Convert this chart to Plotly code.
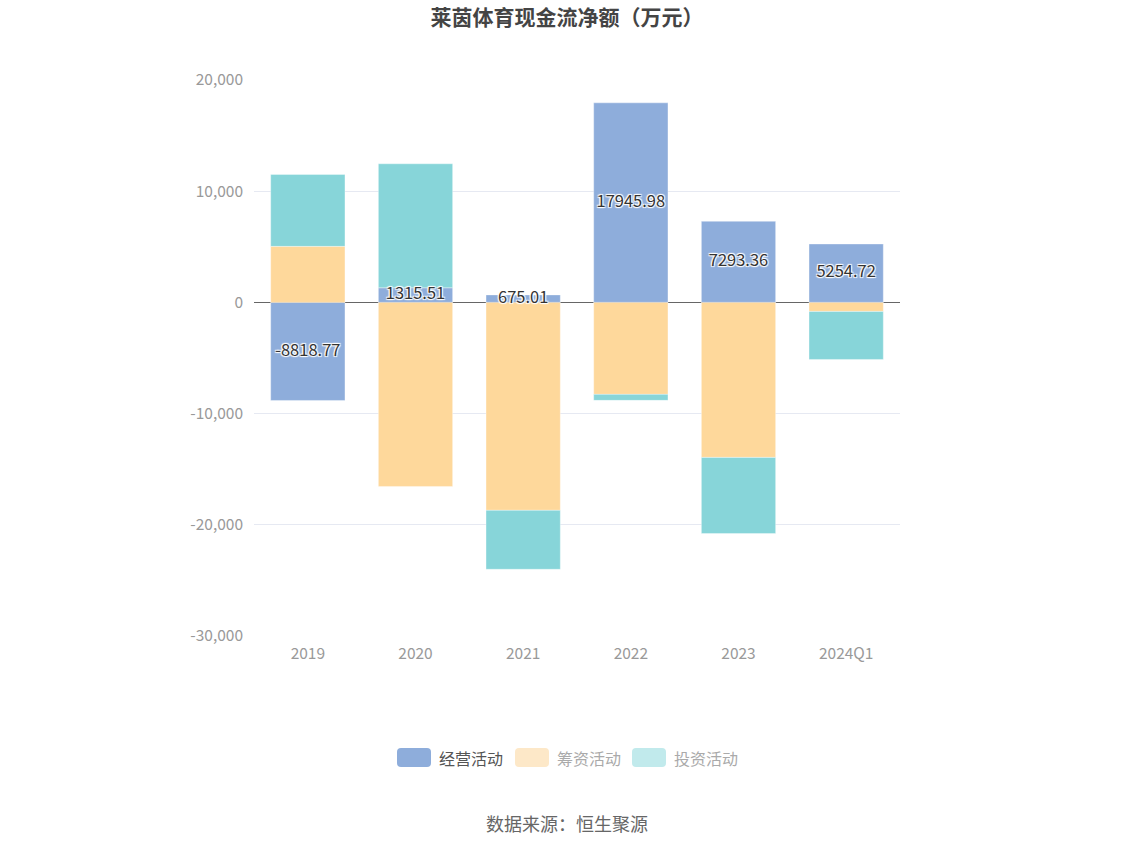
import plotly.graph_objects as go

categories = ["2019", "2020", "2021", "2022", "2023", "2024Q1"]
operating = [-8818.77, 1315.51, 675.01, 17945.98, 7293.36, 5254.72]
financing = [5040, -16550, -18700, -8270, -13940, -810]
investing = [6470, 11150, -5300, -540, -6840, -4320]
operating_labels = ["-8818.77", "1315.51", "675.01", "17945.98", "7293.36", "5254.72"]
series_names = ["经营活动", "筹资活动", "投资活动"]

FONT = "Noto Sans CJK SC, Microsoft YaHei, sans-serif"
C_OP = "#8eaddb"
C_FIN = "#fed89b"
C_INV = "#87d5d9"

W, H = 1134, 849
ML, MR, MT, MB = 254, 234, 80, 213
PW, PH = W - ML - MR, H - MT - MB

def px2paper(x, y):
    # page pixel (from top-left) -> paper coords
    return (x - ML) / PW, (H - MB - y) / PH

fig = go.Figure()
edge = dict(color="rgba(255,255,255,0.6)", width=0.6)
fig.add_trace(go.Bar(x=categories, y=operating, name=series_names[0], marker=dict(color=C_OP, line=edge), width=0.69, showlegend=False))
fig.add_trace(go.Bar(x=categories, y=financing, name=series_names[1], marker=dict(color=C_FIN, line=edge), width=0.69, showlegend=False))
fig.add_trace(go.Bar(x=categories, y=investing, name=series_names[2], marker=dict(color=C_INV, line=edge), width=0.69, showlegend=False))

fig.add_trace(go.Scatter(
    x=categories, y=[v / 2 for v in operating], mode="text", text=operating_labels,
    textfont=dict(family=FONT, size=16.5, color="#333",
                  shadow="1px 1px 1px #fff, -1px -1px 1px #fff, 1px -1px 1px #fff, -1px 1px 1px #fff"),
    showlegend=False, hoverinfo="skip"))

# manual legend (rounded swatches)
legend_items = [
    (397, "#8eaddb", series_names[0], "#555"),
    (515, "#fde8c8", series_names[1], "#aaa"),
    (632, "#c1eaec", series_names[2], "#aaa"),
]
shapes = []
annotations = []
for x0, col, name, tcol in legend_items:
    y0, w, h, r = 748, 34, 19, 4
    x1, y1 = x0 + w, y0 + h
    pts = {
        "a": px2paper(x0 + r, y0), "b": px2paper(x1 - r, y0), "c": px2paper(x1, y0), "d": px2paper(x1, y0 + r),
        "e": px2paper(x1, y1 - r), "f": px2paper(x1, y1), "g": px2paper(x1 - r, y1), "h": px2paper(x0 + r, y1),
        "i": px2paper(x0, y1), "j": px2paper(x0, y1 - r), "k": px2paper(x0, y0 + r), "l": px2paper(x0, y0),
    }
    P = lambda k: f"{pts[k][0]:.5f},{pts[k][1]:.5f}"
    path = (f"M {P('a')} L {P('b')} Q {P('c')} {P('d')} L {P('e')} Q {P('f')} {P('g')} "
            f"L {P('h')} Q {P('i')} {P('j')} L {P('k')} Q {P('l')} {P('a')} Z")
    shapes.append(dict(type="path", path=path, xref="paper", yref="paper", fillcolor=col, line=dict(width=0)))
    tx, ty = px2paper(x1 + 6, y0 + h / 2)
    annotations.append(dict(text=name, x=tx, y=ty, xref="paper", yref="paper", xanchor="left", yanchor="middle",
                            showarrow=False, font=dict(family=FONT, size=16, color=tcol)))

sx, sy = px2paper(567, 823)
annotations.append(dict(text="数据来源：恒生聚源", x=sx, xref="paper", y=sy, yref="paper",
                        showarrow=False, font=dict(family=FONT, size=18, color="#666"), xanchor="center", yanchor="middle"))

fig.update_layout(
    barmode="relative",
    width=W, height=H,
    paper_bgcolor="white", plot_bgcolor="white",
    margin=dict(l=ML, r=MR, t=MT, b=MB),
    font=dict(family=FONT, color="#999"),
    title=dict(text="<b>莱茵体育现金流净额（万元）</b>", x=0.5, xref="container", xanchor="center",
               y=1 - 18 / H, yref="container", yanchor="middle",
               font=dict(family=FONT, size=21, color="#444")),
    xaxis=dict(showgrid=False, showline=False, ticks="", tickfont=dict(size=15.5, color="#999"), ticklabelstandoff=6),
    yaxis=dict(range=[-30000, 20000], tickvals=[-30000, -20000, -10000, 0, 10000, 20000],
               ticktext=["-30,000", "-20,000", "-10,000", "0", "10,000", "20,000"],
               gridcolor="#e6e9f2", gridwidth=1, zeroline=True, zerolinecolor="#666", zerolinewidth=1,
               tickfont=dict(size=15.5, color="#999"), ticklabelstandoff=10, showline=False),
    showlegend=False,
    shapes=shapes,
    annotations=annotations,
)

fig.write_html("out.html", config={"displayModeBar": False},
               post_script="document.body.style.margin='0';document.body.style.overflow='hidden';")
